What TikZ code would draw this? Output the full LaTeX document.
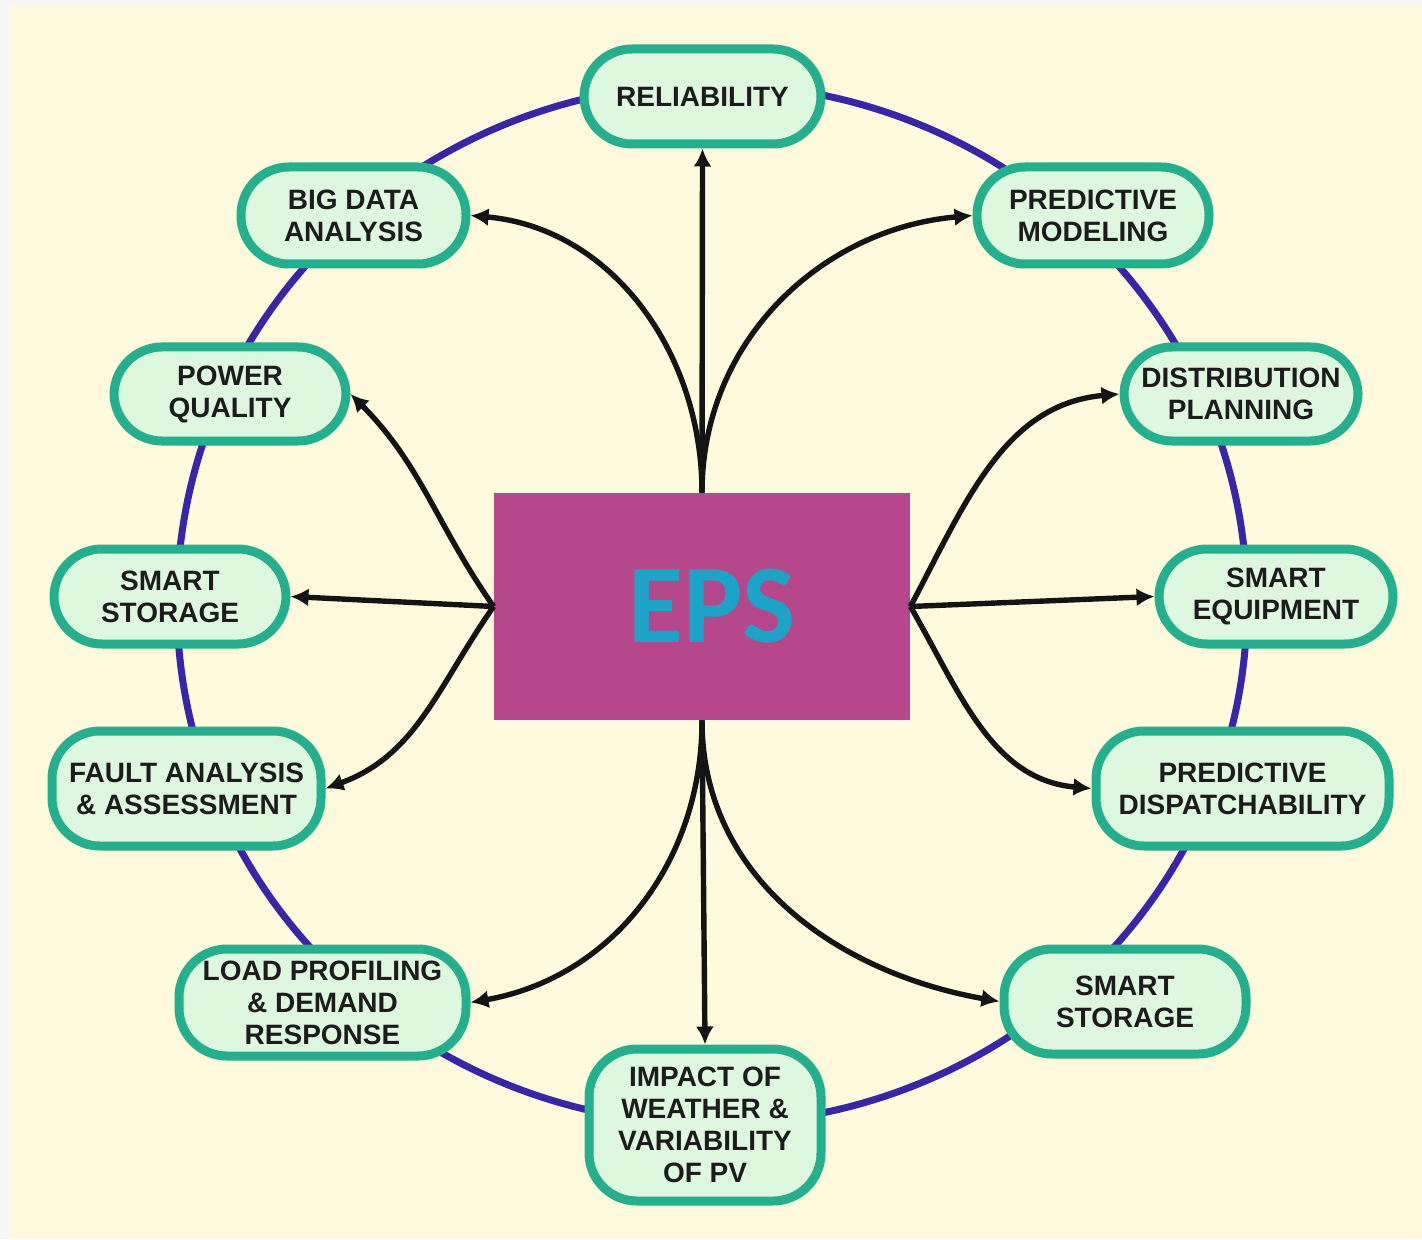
\documentclass[tikz,border=0pt]{standalone}
\usepackage{fontspec}
\setmainfont{Liberation Sans}
\newfontfamily\epsfont{Carlito}
\usetikzlibrary{arrows.meta}
\definecolor{bg}{HTML}{FFFADB}
\definecolor{ring}{HTML}{3A24AA}
\definecolor{nodeedge}{HTML}{22B08F}
\definecolor{nodefill}{HTML}{DEF8E0}
\definecolor{epsfill}{HTML}{B5478A}
\definecolor{epstext}{HTML}{1CA4C8}
\definecolor{txt}{HTML}{1C1C1C}
\begin{document}
\begin{tikzpicture}[x=0.5pt,y=0.5pt,
  topic/.style={draw=nodeedge, line width=4.5pt, fill=nodefill, rounded corners=24pt, align=center,
    font=\bfseries\fontsize{14}{16}\selectfont, text=txt, inner sep=0pt},
  link/.style={line width=2.7pt, draw=black!92, -{Latex[length=9pt,width=9pt]}},
  centre/.style={fill=epsfill, inner sep=0pt, text=epstext,
    font=\epsfont\bfseries\fontsize{56}{60}\selectfont}
]
\useasboundingbox (0,0) rectangle (1422,1239);
\fill[white!94!gray] (0,0) rectangle (1422,1239);
\fill[bg] (10,0) rectangle (1422,1234);
\draw[ring, line width=3.5pt] (712,635) ellipse [x radius=535, y radius=520];

\node[topic, minimum width=118.5pt, minimum height=47.5pt] (rel) at (702.5,1142.5) {RELIABILITY};
\node[topic, minimum width=112.5pt, minimum height=48.5pt] (big) at (353.5,1023.5) {BIG DATA\\ANALYSIS};
\node[topic, minimum width=116pt, minimum height=48.5pt] (pmod) at (1093,1023.5) {PREDICTIVE\\MODELING};
\node[topic, minimum width=116pt, minimum height=47pt] (pq) at (230,845) {POWER\\QUALITY};
\node[topic, minimum width=117pt, minimum height=47pt] (dist) at (1241,845) {DISTRIBUTION\\PLANNING};
\node[topic, minimum width=116pt, minimum height=47.5pt] (ssl) at (170,642.5) {SMART\\STORAGE};
\node[topic, minimum width=117pt, minimum height=47.5pt] (seq) at (1276,642.5) {SMART\\EQUIPMENT};
\node[topic, minimum width=134.5pt, minimum height=57.5pt] (fault) at (186.5,450.5) {FAULT ANALYSIS\\\& ASSESSMENT};
\node[topic, minimum width=146.5pt, minimum height=57.5pt] (disp) at (1242.5,450.5) {PREDICTIVE\\DISPATCHABILITY};
\node[topic, minimum width=143.5pt, minimum height=53.5pt] (load) at (322.5,236.5) {LOAD PROFILING\\\& DEMAND\\RESPONSE};
\node[topic, minimum width=121pt, minimum height=52.5pt] (ssr) at (1125,237.5) {SMART\\STORAGE};
\node[topic, minimum width=116pt, minimum height=76pt] (imp) at (705,114) {IMPACT OF\\WEATHER \&\\VARIABILITY\\OF PV};

\node[centre, minimum width=208pt, minimum height=113.5pt] (eps) at (702,632.5) {\hspace{10pt}EPS};

\draw[link] (eps.north) -- (rel.south);
\draw[link] (eps.north) to[out=90,in=-5] (big.east);
\draw[link] (eps.north) to[out=90,in=185] (pmod.west);
\draw[link] (eps.west) to[out=125,in=-45] (pq.east);
\draw[link] (eps.west) -- (ssl.east);
\draw[link] (eps.west) to[out=235,in=20] (fault.east);
\draw[link] (eps.east) to[out=62,in=185] (dist.west);
\draw[link] (eps.east) -- (seq.west);
\draw[link] (eps.east) to[out=-60,in=175] (disp.west);
\draw[link] (eps.south) to[out=-90,in=10] (load.east);
\draw[link] (eps.south) -- (imp.north);
\draw[link] (eps.south) to[out=-90,in=170] (ssr.west);
\end{tikzpicture}
\end{document}
